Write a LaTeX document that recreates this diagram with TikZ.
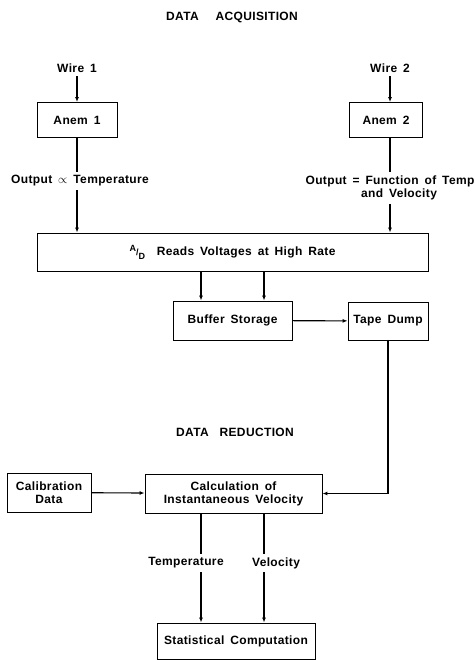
\documentclass[tikz,border=0pt]{standalone}
\usepackage{fontspec}
\setmainfont[LetterSpace=3,WordSpace=1.6]{Liberation Sans}
\usetikzlibrary{arrows.meta}
\begin{document}
\begin{tikzpicture}[x=1pt, y=-1pt, line width=1.1pt, >={Latex[length=5pt,width=4pt]},
  every node/.style={font=\fontsize{12}{13}\selectfont\bfseries},
  main node/.style={draw, line width=0.9pt, inner sep=0pt, align=center}]
\useasboundingbox (0,0) rectangle (474,660);
% acquisition
\node (acq) at (232,17) {DATA\hspace{1.4em}ACQUISITION};
\node (w1) at (77,68) {Wire 1};
\node (w2) at (390,68) {Wire 2};
\node [main node, minimum width=80pt, minimum height=35pt](a1) at (77,120) {Anem 1};
\node [main node, minimum width=73pt, minimum height=35pt](a2) at (386,120) {Anem 2};
\node (o1) at (80,181) {Output {\large$\propto$} Temperature};
\node [align=center](o2) at (390,188) {Output = Function of Temp\\\hspace*{1.5em}and Velocity};
\node [main node, minimum width=391pt, minimum height=38pt](ad) at (232.5,252) {\raisebox{4pt}{\small A}{\small/}\raisebox{-4pt}{\small D}\ \ Reads Voltages at High Rate};
\node [main node, minimum width=119pt, minimum height=39pt](buf) at (232.5,320.5) {Buffer Storage};
\node [main node, minimum width=80pt, minimum height=38pt](tape) at (388,321) {Tape Dump};
% reduction
\node (red) at (235,432) {DATA\hspace{0.9em}REDUCTION};
\node [main node, minimum width=84pt, minimum height=39pt](cal) at (49,492.5) {Calibration\\Data};
\node [main node, minimum width=177pt, minimum height=39pt](calc) at (233.5,493.5) {Calculation of\\Instantaneous Velocity};
\node (tl) at (186,563) {Temperature};
\node (vl) at (276,563) {Velocity};
\node [main node, minimum width=158pt, minimum height=36pt](stat) at (236,641) {Statistical Computation};
\coordinate (c1) at (201,0);
\coordinate (c2) at (264,0);
\draw[->] (w1) -- (a1);
\draw[->] (w2) -- (w2 |- a2.north);
\draw (a1) -- (a1 |- o1.north);
\draw[->] (a1 |- o1.south) -- (a1 |- ad.north);
\draw (w2 |- a2.south) -- (w2 |- o2.north);
\draw[->] (w2 |- o2.south) -- (w2 |- ad.north);
\draw[->] (c1 |- ad.south) -- (c1 |- buf.north);
\draw[->] (c2 |- ad.south) -- (c2 |- buf.north);
\draw[->] (buf) -- (tape);
\draw[->] (tape.south) |- (calc.east);
\draw[->] (cal) -- (calc);
\draw (c1 |- calc.south) -- (c1 |- tl.north);
\draw[->] (c1 |- tl.south) -- (c1 |- stat.north);
\draw (c2 |- calc.south) -- (c2 |- vl.north);
\draw[->] (c2 |- vl.south) -- (c2 |- stat.north);
\end{tikzpicture}
\end{document}
